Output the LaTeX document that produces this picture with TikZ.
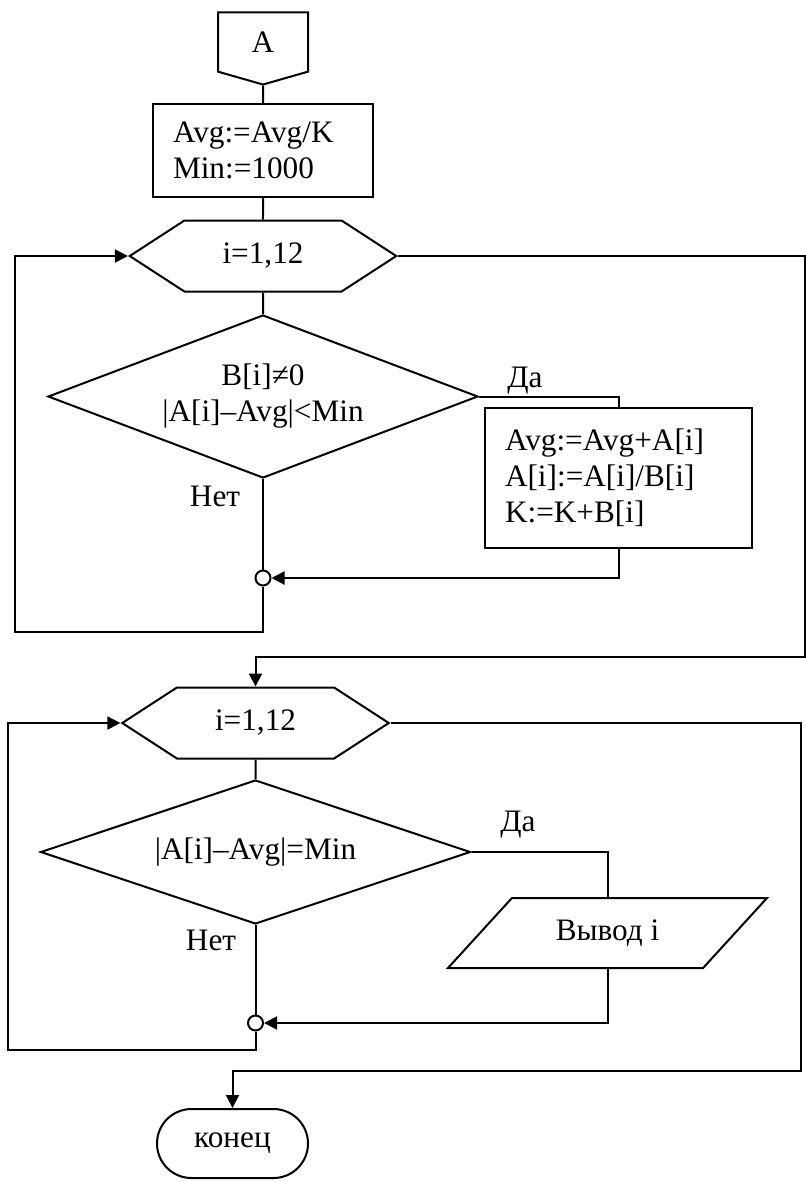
\documentclass[tikz,border=0pt]{standalone}
\usepackage{fontspec}
\setmainfont{Liberation Serif}
\usetikzlibrary{positioning,arrows.meta,shapes.geometric,shapes.misc,shapes.symbols}

\begin{document}
\begin{tikzpicture}[
    x=0.4pt, y=-0.4pt,
    >={Triangle[length=5.2pt,width=5.2pt]},
    line width=0.8pt,
    font=\fontsize{12.5}{14.4}\selectfont,
    conn/.style={draw, signal, signal to=south, signal pointer angle=148,
                 minimum width=36pt, minimum height=25pt, inner sep=0pt},
    proc/.style={draw, rectangle, align=left, inner xsep=8pt, inner ysep=0pt},
    loopbox/.style={draw, signal, signal to=east and west, signal pointer angle=66,
                    minimum width=106.6pt, minimum height=28.4pt, inner sep=0pt},
    cond/.style={draw, diamond, align=center, inner sep=0pt, minimum width=172pt},
    io/.style={draw, trapezium, trapezium left angle=47.6, trapezium right angle=132.4,
               trapezium stretches body=true, minimum width=127.6pt,
               text height=9pt, text depth=3pt, inner ysep=8pt, inner xsep=0pt},
    term/.style={draw, rounded rectangle, minimum width=60.4pt, minimum height=27.6pt, inner sep=0pt},
    merge/.style={draw, circle, fill=white, inner sep=0pt, minimum size=6pt},
    lbl/.style={inner sep=0pt},
    arrow/.style={->},
]
    \useasboundingbox (0,0) rectangle (806,1182);

    % Start
    \node[conn] (start) at (263,42) {A};
    \node[proc, text width=72pt, minimum height=37.2pt] (init) at (263,150.5)
        {Avg:=Avg/K\\Min:=1000};

    % First loop
    \node[loopbox] (loop1) at (263,256) {i=1,12};
    \node[cond, minimum height=65.2pt, aspect=2.64] (check1) at (263,396.5)
        {B[i]≠0\\|A[i]–Avg|<Min};
    \node[proc, text width=90.8pt, minimum height=56pt] (calc) at (618.5,478)
        {Avg:=Avg+A[i]\\A[i]:=A[i]/B[i]\\K:=K+B[i]};
    \node[merge] (merge1) at (263,578) {};
    \node[lbl] (yes1) at (525,381) {Да};
    \node[lbl] (no1) at (215,496) {Нет};
    \coordinate (back1) at (15,632);
    \coordinate (exit1) at (805,657);

    % Second loop
    \node[loopbox] (loop2) at (255.5,723) {i=1,12};
    \node[cond, minimum height=57.6pt, aspect=3.1] (check2) at (255.5,852)
        {|A[i]–Avg|=Min};
    \node[io] (out) at (607.5,933) {Вывод i};
    \node[merge] (merge2) at (255.5,1023) {};
    \node[lbl] (yes2) at (518,825) {Да};
    \node[lbl] (no2) at (211,940) {Нет};
    \coordinate (back2) at (8,1050);
    \coordinate (exit2) at (801,1071);

    % End
    \node[term] (stop) at (232.5,1143.5) {конец};

    % Main flow
    \draw (start) -- (init);
    \draw (init) -- (loop1);
    \draw (loop1) -- (check1);
    \draw (check1.east) -| (calc.north);
    \draw[arrow] (calc.south) |- (merge1.east);
    \draw (check1.south) -- (merge1.north);
    \draw[arrow] (merge1.south) |- (back1) |- (loop1.west);
    \draw[arrow] (loop1.east) -| (exit1) -| (loop2.north);

    \draw (loop2) -- (check2);
    \draw (check2.east) -| (out.north);
    \draw[arrow] (out.south) |- (merge2.east);
    \draw (check2.south) -- (merge2.north);
    \draw[arrow] (merge2.south) |- (back2) |- (loop2.west);
    \draw[arrow] (loop2.east) -| (exit2) -| (stop.north);

\end{tikzpicture}
\end{document}
